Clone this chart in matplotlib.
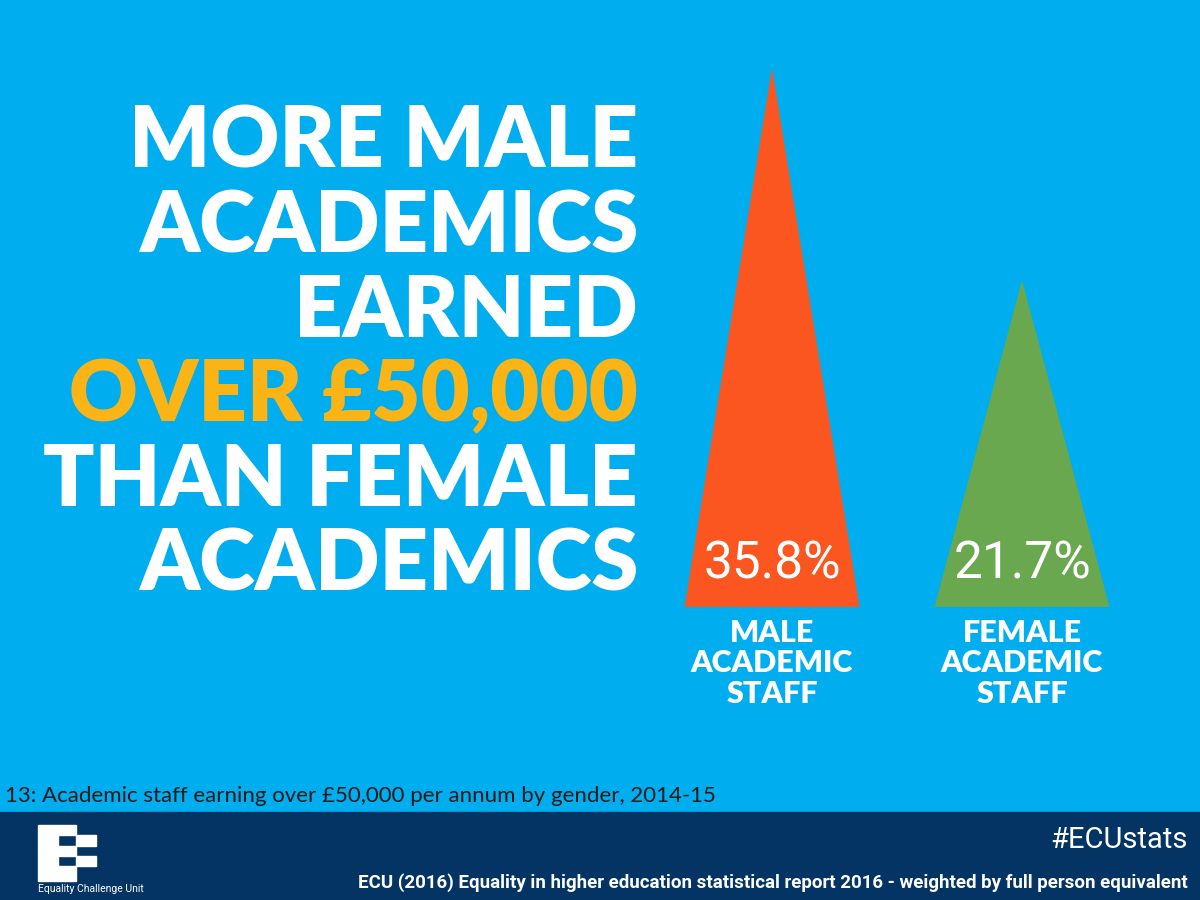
import matplotlib.pyplot as plt
from matplotlib.patches import Rectangle, Polygon

# data
groups = ["MALE\nACADEMIC\nSTAFF", "FEMALE\nACADEMIC\nSTAFF"]
values = [35.8, 21.7]
colors = ["#fb5520", "#6aa84f"]

BG = "#00adef"
NAVY = "#043463"
YELLOW = "#fbb416"

fig = plt.figure(figsize=(12, 9), dpi=100)
fig.patch.set_facecolor(BG)

# full-figure pixel canvas for text and decoration
bg = fig.add_axes([0, 0, 1, 1])
bg.set_xlim(0, 1200)
bg.set_ylim(900, 0)
bg.axis("off")

bg.add_patch(Rectangle((0, 812), 1200, 88, color=NAVY, zorder=1))

title = [("MORE MALE", "white"), ("ACADEMICS", "white"), ("EARNED", "white"),
         ("OVER £50,000", YELLOW), ("THAN FEMALE", "white"), ("ACADEMICS", "white")]
for i, (line, col) in enumerate(title):
    bg.text(638, 168 + i * 84.5, line, ha="right", va="baseline", color=col,
            fontsize=61, fontweight="heavy", family=["Lato", "DejaVu Sans"])

bg.text(5, 802, "13: Academic staff earning over £50,000 per annum by gender, 2014-15",
        fontsize=16, color="#1a1a1a", va="baseline", family=["Lato", "DejaVu Sans"])
bg.text(1188, 848, "#ECUstats", ha="right", va="baseline", color="white",
        fontsize=21, family=["Roboto", "DejaVu Sans"])
bg.text(1188, 888, "ECU (2016) Equality in higher education statistical report 2016 - weighted by full person equivalent",
        ha="right", va="baseline", color="white", fontsize=13.5, fontweight="bold",
        family=["Roboto", "DejaVu Sans"])

# logo
for (x, y, w, h) in [(38, 825, 20, 56), (58, 825, 18, 10), (58, 846, 18, 10), (58, 866, 18, 15),
                     (76, 835, 20, 11), (76, 856, 20, 10)]:
    bg.add_patch(Rectangle((x, y), w, h, color="white", zorder=2))
bg.text(38, 892, "Equality Challenge Unit", color="white", fontsize=7.5,
        family=["Roboto", "DejaVu Sans"])

# triangle chart
ax = fig.add_axes([647 / 1200, 293 / 900, 500 / 1200, 602 / 900])
ax.set_xlim(0, 2)
ax.set_ylim(0, 40)
ax.axis("off")
half = 0.35
for i, (v, c, g) in enumerate(zip(values, colors, groups)):
    cx = i + 0.5
    ax.add_patch(Polygon([(cx - half, 0), (cx + half, 0), (cx, v)], closed=True,
                         facecolor=c, edgecolor="none"))
    ax.text(cx, 1.9, f"{v:.1f}%", ha="center", va="baseline", color="white",
            fontsize=37, family=["Roboto", "DejaVu Sans"])
    ax.text(cx, -0.8, g, ha="center", va="top", color="white", fontsize=22,
            fontweight="heavy", linespacing=1.1, family=["Lato", "DejaVu Sans"],
            clip_on=False)

fig.savefig("out.png", dpi=100, facecolor=BG)
